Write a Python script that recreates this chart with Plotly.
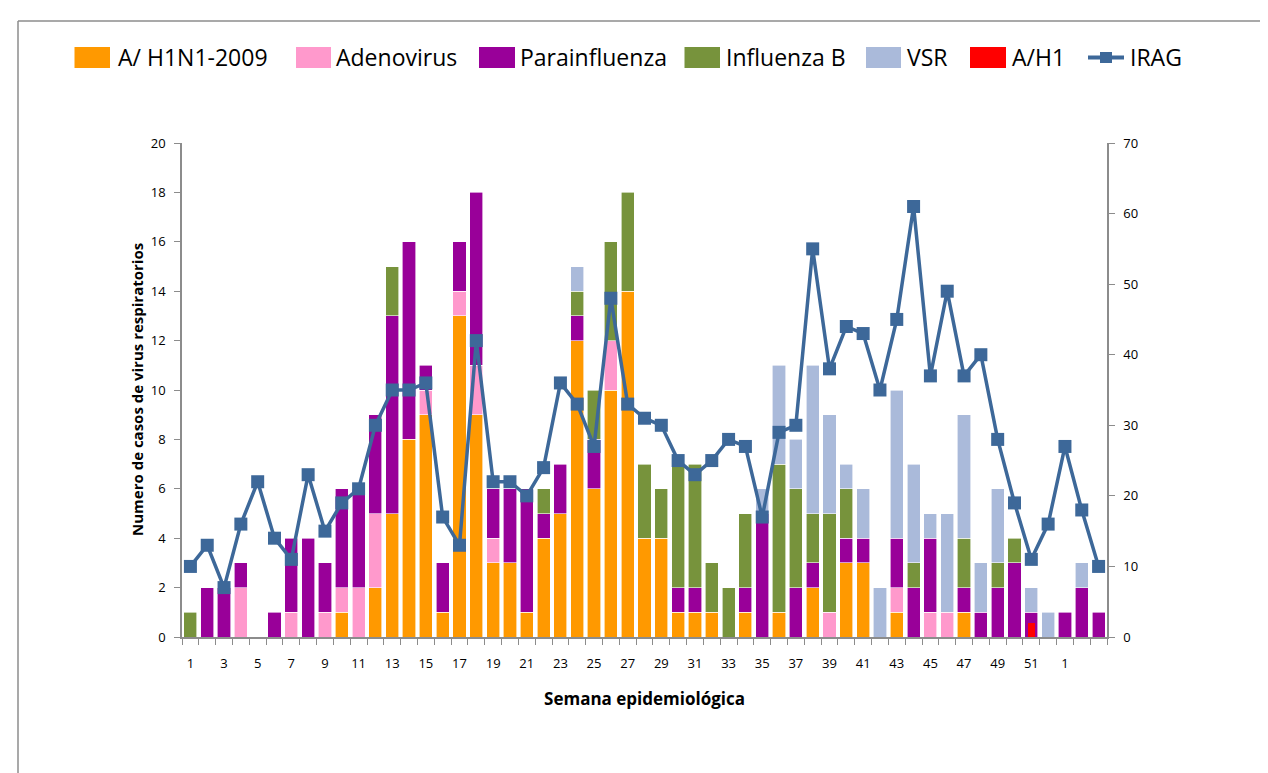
import plotly.graph_objects as go

weeks = [str(w) for w in range(1, 53)] + ["1", "2", "3"]

h1n1_2009 = [0,0,0,0,0,0,0,0,0,1,0,2,5,8,9,1,13,9,3,3,1,4,5,12,6,10,14,4,4,1,
             1,1,0,1,0,1,0,2,0,3,3,0,1,0,0,0,1,0,0,0,0,0,0,0,0]
adenovirus = [0,0,0,2,0,0,1,0,1,1,2,3,0,0,1,0,1,2,1,0,0,0,0,0,0,2,0,0,0,0,
              0,0,0,0,0,0,0,0,1,0,0,0,1,0,1,1,0,0,0,0,0,0,0,0,0]
parainfluenza = [0,2,2,1,0,1,3,4,2,4,4,4,8,8,1,2,2,7,2,3,5,1,2,1,2,0,0,0,0,1,
                 1,0,0,1,5,0,2,1,0,1,1,0,2,2,3,0,1,1,2,3,1,0,1,2,1]
influenza_b = [1,0,0,0,0,0,0,0,0,0,0,0,2,0,0,0,0,0,0,0,0,1,0,1,2,4,4,3,2,5,
               5,2,2,3,0,6,4,2,4,2,0,0,0,1,0,0,2,0,1,1,0,0,0,0,0]
vsr = [0,0,0,0,0,0,0,0,0,0,0,0,0,0,0,0,0,0,0,0,0,0,0,1,0,0,0,0,0,0,
       0,0,0,0,1,4,2,6,4,1,2,2,6,4,1,4,5,2,3,0,1,1,0,1,0]
a_h1 = [0]*50 + [2] + [0]*4
irag = [10,13,7,16,22,14,11,23,15,19,21,30,35,35,36,17,13,42,22,22,20,24,36,33,27,48,33,31,30,25,
        23,25,28,27,17,29,30,55,38,44,43,35,45,61,37,49,37,40,28,19,11,16,27,18,10]

y_ticks_left = list(range(0, 21, 2))
y_ticks_right = list(range(0, 71, 10))

legend_names = ["A/ H1N1-2009", "Adenovirus", "Parainfluenza", "Influenza B", "VSR", "A/H1", "IRAG"]
colors = ["#FF9900", "#FF99CC", "#990099", "#77933C", "#AABADA", "#FF0000", "#3D6899"]

FONT = "Open Sans"
xs = list(range(len(weeks)))

def nz(v):
    return [val if val else None for val in v]

fig = go.Figure()
bar_series = [h1n1_2009, adenovirus, parainfluenza, influenza_b, vsr]
for name, vals, col in zip(legend_names[:5], bar_series, colors[:5]):
    fig.add_trace(go.Bar(x=xs, y=nz(vals), name=name, showlegend=False,
                         marker=dict(color=col, line=dict(color="white", width=0.6)),
                         yaxis="y"))

fig.add_trace(go.Bar(x=xs, y=nz(a_h1), name=legend_names[5], showlegend=False,
                     marker=dict(color=colors[5], line=dict(width=0)), yaxis="y2", width=0.4))
fig.add_trace(go.Scatter(x=xs, y=irag, name=legend_names[6], showlegend=False,
                         mode="lines+markers", yaxis="y2",
                         line=dict(color=colors[6], width=3.5),
                         marker=dict(symbol="square", size=13, color=colors[6])))

tickvals = list(range(0, 53, 2))
ticktext = [weeks[i] for i in tickvals]

# plot area in page pixels: x 182..1107, y 143..637
def px(p):
    return (p - 182) / 925.0

def py(p):
    return (637 - p) / 494.0

# custom legend (page-pixel positions)
key_x = [(74.5, 110), (296, 331), (479, 515), (684.5, 720), (866, 901), (970, 1006), (1088, 1124)]
text_x = [116, 334, 518, 724, 905, 1010, 1128]
shapes = []
annotations = []
for i, (name, col) in enumerate(zip(legend_names, colors)):
    x0, x1 = key_x[i]
    if i < 6:
        shapes.append(dict(type="rect", xref="paper", yref="paper", x0=px(x0), x1=px(x1),
                           y0=py(68), y1=py(47), fillcolor=col, line=dict(width=0)))
    else:
        shapes.append(dict(type="line", xref="paper", yref="paper", x0=px(x0), x1=px(x1),
                           y0=py(57.5), y1=py(57.5), line=dict(color=col, width=4)))
        shapes.append(dict(type="rect", xref="paper", yref="paper", x0=px(x0 + 12), x1=px(x1 - 12),
                           y0=py(63), y1=py(52), fillcolor=col, line=dict(width=0)))
    annotations.append(dict(text=name, xref="paper", yref="paper", x=px(text_x[i]), y=py(57.5),
                            xanchor="left", yanchor="middle", showarrow=False,
                            font=dict(family=FONT, size=23, color="black")))

annotations.append(dict(text="<b>Numero de casos de virus respiratorios</b>", xref="paper", yref="paper",
                        x=px(137), y=0.5, xanchor="center", yanchor="middle", textangle=-90,
                        showarrow=False, font=dict(family=FONT, size=15, color="black")))

shapes.append(dict(type="line", xref="paper", yref="paper", x0=px(18), x1=px(1275), y0=py(21), y1=py(21),
                   line=dict(color="#8C8C8C", width=1.5)))
shapes.append(dict(type="line", xref="paper", yref="paper", x0=px(18), x1=px(18), y0=py(21), y1=py(780),
                   line=dict(color="#8C8C8C", width=1.5)))

fig.update_layout(
    width=1260, height=765,
    margin=dict(l=174, r=161, t=135, b=136),
    paper_bgcolor="white", plot_bgcolor="white",
    barmode="stack", bargap=0.22,
    font=dict(family=FONT, size=13, color="black"),
    showlegend=False,
    shapes=shapes, annotations=annotations,
    xaxis=dict(range=[-0.5, 54.5], tickmode="array", tickvals=tickvals, ticktext=ticktext,
               ticks="outside", ticklen=0, showline=True, linecolor="#8C8C8C", linewidth=1.5,
               showgrid=False, zeroline=False, ticklabelstandoff=14,
               tickfont=dict(family=FONT, size=13),
               minor=dict(ticks="outside", tickmode="linear", tick0=-0.5, dtick=1, ticklen=6,
                          tickcolor="#8C8C8C", tickwidth=1, showgrid=False),
               title=dict(text="<b>Semana epidemiológica</b>", font=dict(family=FONT, size=17), standoff=22)),
    yaxis=dict(range=[0, 20], tickmode="array", tickvals=y_ticks_left, ticks="outside", ticklen=6,
               tickcolor="#8C8C8C", showline=True, linecolor="#8C8C8C", linewidth=1.5,
               showgrid=False, zeroline=False, tickfont=dict(family=FONT, size=13),
               ticklabelstandoff=6),
    yaxis2=dict(range=[0, 70], tickmode="array", tickvals=y_ticks_right, overlaying="y", side="right",
                ticks="outside", ticklen=6, tickcolor="#8C8C8C", showline=True, linecolor="#8C8C8C",
                linewidth=1.5, showgrid=False, zeroline=False, tickfont=dict(family=FONT, size=13),
                ticklabelstandoff=6),
)

fig.write_html("out.html")
